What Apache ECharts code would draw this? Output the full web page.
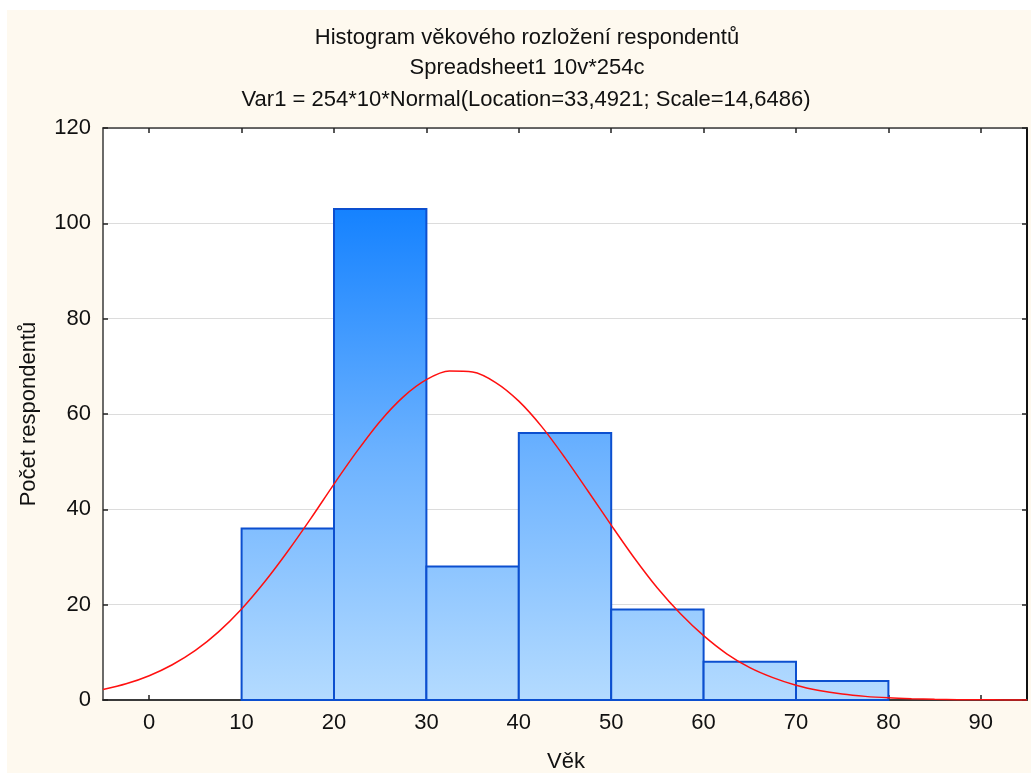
<!DOCTYPE html>
<html>
<head>
<meta charset="utf-8">
<script src="https://cdn.jsdelivr.net/npm/echarts@6/dist/echarts.min.js"></script>
<style>
html,body{margin:0;padding:0;background:#fff;}
#bg{position:absolute;left:7px;top:10px;width:1024px;height:763px;background:#fef9ef;}
#chart{position:absolute;left:0;top:0;width:1031px;height:773px;}
</style>
</head>
<body>
<div id="bg"></div>
<div id="chart"></div>
<script>
// Histogram bins (age from, age to) and counts
const binStart = [10, 20, 30, 40, 50, 60, 70];
const binEnd   = [20, 30, 40, 50, 60, 70, 80];
const counts   = [36, 103, 28, 56, 19, 8, 4];
// Fitted normal curve
const curveX = [-5, -2.5, 0, 2.5, 5, 7.5, 10, 12.5, 15, 17.5, 20, 22.5, 25, 27.5, 30, 32.5, 35, 37.5, 40, 42.5, 45, 47.5, 50, 52.5, 55, 57.5, 60, 62.5, 65, 67.5, 70, 72.5, 75, 77.5, 80, 82.5, 85, 87.5, 90, 92.5, 95];
const curveY = [2.2, 3.4, 5.1, 7.4, 10.4, 14.3, 19.1, 24.8, 31.2, 38.1, 45.3, 52.2, 58.5, 63.6, 67.2, 69.0, 68.8, 66.6, 62.7, 57.3, 50.8, 43.8, 36.7, 29.8, 23.5, 18.1, 13.5, 9.7, 6.8, 4.7, 3.1, 2.0, 1.25, 0.76, 0.45, 0.26, 0.14, 0.07, 0.04, 0.02, 0.01];
const xTicks = [0, 10, 20, 30, 40, 50, 60, 70, 80, 90];
const titleLines = [
  'Histogram věkového rozložení respondentů',
  'Spreadsheet1 10v*254c',
  'Var1 = 254*10*Normal(Location=33,4921; Scale=14,6486)'
];
const xName = 'Věk';
const yName = 'Počet respondentů';

const FONT = 'Liberation Sans, Arial, sans-serif';
const FS = 22;
const chart = echarts.init(document.getElementById('chart'));

const barData = binStart.map((s, i) => [s, binEnd[i], counts[i]]);
const lineData = curveX.map((x, i) => [x, curveY[i]]);

const axisLineStyle = {color: '#3a3a3a', width: 1.5};
const tickStyle = {color: '#222', width: 1.5};

chart.setOption({
  animation: false,
  grid: {left: 103, top: 128, right: 4, bottom: 73, show: true, backgroundColor: '#ffffff', borderWidth: 0},
  xAxis: [{
    type: 'value', min: -5, max: 95, position: 'bottom',
    axisLine: {show: true, onZero: false, lineStyle: {color: '#3a3a3a', width: 2}},
    axisTick: {show: true, inside: true, length: 5, customValues: xTicks, lineStyle: tickStyle},
    axisLabel: {show: true, customValues: xTicks, margin: 12, color: '#111', fontSize: FS, fontFamily: FONT},
    splitLine: {show: false}
  }, {
    type: 'value', min: -5, max: 95, position: 'top',
    axisLine: {show: true, onZero: false, lineStyle: axisLineStyle},
    axisTick: {show: true, inside: true, length: 5, customValues: xTicks, lineStyle: tickStyle},
    axisLabel: {show: false},
    splitLine: {show: false}
  }],
  yAxis: [{
    type: 'value', min: 0, max: 120, interval: 20, position: 'left',
    axisLine: {show: true, onZero: false, lineStyle: axisLineStyle},
    axisTick: {show: true, inside: true, length: 5, lineStyle: tickStyle},
    axisLabel: {show: true, margin: 12, color: '#111', fontSize: FS, fontFamily: FONT},
    splitLine: {show: true, lineStyle: {color: '#dcdcdc', width: 1.2}}
  }, {
    type: 'value', min: 0, max: 120, interval: 20, position: 'right',
    axisLine: {show: true, onZero: false, lineStyle: {color: '#111', width: 2}},
    axisTick: {show: true, inside: true, length: 5, lineStyle: tickStyle},
    axisLabel: {show: false},
    splitLine: {show: false}
  }],
  graphic: [
    {type: 'text', x: 527, y: 38, style: {text: titleLines[0], align: 'center', verticalAlign: 'middle', fontSize: FS, fontFamily: FONT, fill: '#111'}},
    {type: 'text', x: 527, y: 68, style: {text: titleLines[1], align: 'center', verticalAlign: 'middle', fontSize: FS, fontFamily: FONT, fill: '#111'}},
    {type: 'text', x: 526, y: 100, style: {text: titleLines[2], align: 'center', verticalAlign: 'middle', fontSize: FS, fontFamily: FONT, fill: '#111'}},
    {type: 'text', x: 566, y: 762, style: {text: xName, align: 'center', verticalAlign: 'middle', fontSize: FS, fontFamily: FONT, fill: '#111'}},
    {type: 'text', x: 29, y: 414, rotation: Math.PI / 2, style: {text: yName, align: 'center', verticalAlign: 'middle', fontSize: FS, fontFamily: FONT, fill: '#111'}}
  ],
  series: [{
    type: 'custom',
    xAxisIndex: 0, yAxisIndex: 0,
    data: barData,
    encode: {x: [0, 1], y: 2},
    renderItem: function (params, api) {
      const p0 = api.coord([api.value(0), 0]);
      const p1 = api.coord([api.value(1), api.value(2)]);
      const top = api.coord([0, 103])[1];
      const bottom = api.coord([0, 0])[1];
      return {
        type: 'rect',
        shape: {x: p0[0], y: p1[1], width: p1[0] - p0[0], height: p0[1] - p1[1]},
        style: {
          fill: {type: 'linear', x: 0, y: top, x2: 0, y2: bottom, global: true,
            colorStops: [{offset: 0, color: '#1582ff'}, {offset: 0.5, color: '#6cb2ff'}, {offset: 1, color: '#b4dbff'}]},
          stroke: '#0c4fcf', lineWidth: 2
        }
      };
    },
    z: 2
  }, {
    type: 'line',
    xAxisIndex: 0, yAxisIndex: 0,
    data: lineData,
    smooth: 0.3,
    showSymbol: false,
    symbol: 'none',
    lineStyle: {color: '#ff1010', width: 1.5},
    z: 3
  }]
});
</script>
</body>
</html>
